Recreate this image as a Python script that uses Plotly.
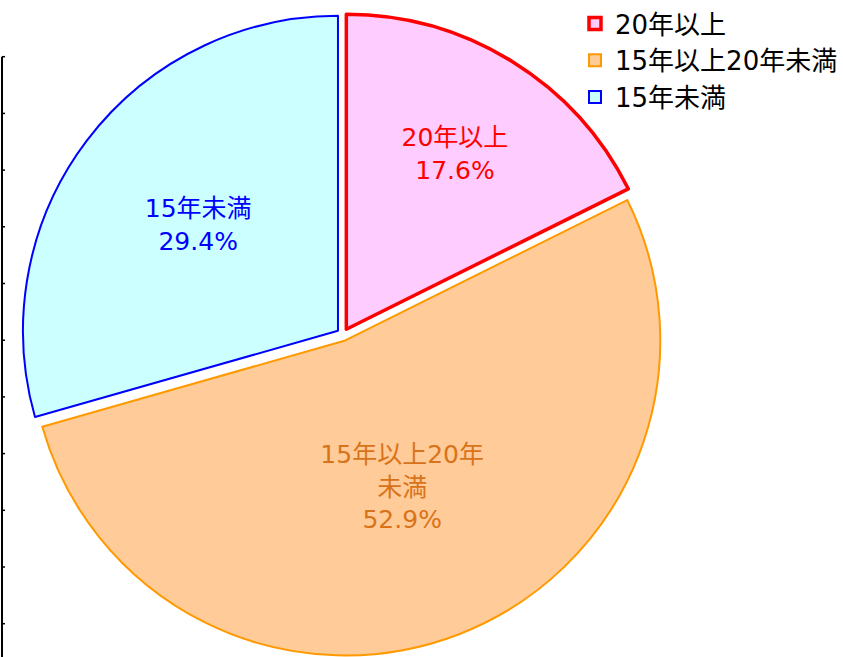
import plotly.graph_objects as go

# Data
labels = ["20年以上", "15年以上20年未満", "15年未満"]
counts = [3, 9, 5]  # 17.6%, 52.9%, 29.4%
slice_text = ["20年以上", "15年以上20年<br>未満", "15年未満"]

fill_colors = ["#FFCCFF", "#FFCC99", "#CCFFFF"]
line_colors = ["#FF0000", "#FF9900", "#0000FF"]
line_widths = [3.5, 2, 2]
text_colors = ["#FF0000", "#D9731A", "#0000FF"]

W, H = 843, 657
font_family = "DejaVu Sans, Noto Sans CJK JP, sans-serif"

fig = go.Figure()
fig.add_trace(go.Pie(
    labels=labels,
    values=counts,
    text=slice_text,
    texttemplate="%{text}<br>%{percent:.1%}",
    textposition="inside",
    insidetextorientation="horizontal",
    insidetextfont=dict(color=text_colors, size=25, family=font_family),
    sort=False,
    direction="clockwise",
    rotation=0,
    pull=[0.02, 0.02, 0.02],
    marker=dict(colors=fill_colors, line=dict(color=line_colors, width=line_widths)),
    domain=dict(x=[21.7 / W, 664.3 / W], y=[1.1 / H, 643.7 / H]),
    hoverinfo="label+percent",
    showlegend=True,
))

# Left axis-like decorative line with ticks
shapes = [dict(type="line", xref="paper", yref="paper", x0=2 / W, x1=2 / W,
               y0=0, y1=(H - 56.7) / H, line=dict(color="#000000", width=2))]
for k in range(1, 12):
    yp = (H - 56.7 * k) / H
    shapes.append(dict(type="line", xref="paper", yref="paper", x0=2 / W, x1=5 / W,
                       y0=yp, y1=yp, line=dict(color="#000000", width=1.5)))

fig.update_layout(
    width=W, height=H,
    margin=dict(l=0, r=0, t=0, b=0, autoexpand=False),
    paper_bgcolor="white",
    plot_bgcolor="white",
    font=dict(family=font_family, size=26, color="#000000"),
    legend=dict(x=575 / W, y=1.0, xanchor="left", yanchor="top",
                font=dict(size=26, color="#000000"), bgcolor="rgba(0,0,0,0)",
                itemwidth=30, tracegroupgap=0),
    shapes=shapes,
)

fig.write_html("out.html", config={"displayModeBar": False},
               post_script="document.body.style.margin='0';")
